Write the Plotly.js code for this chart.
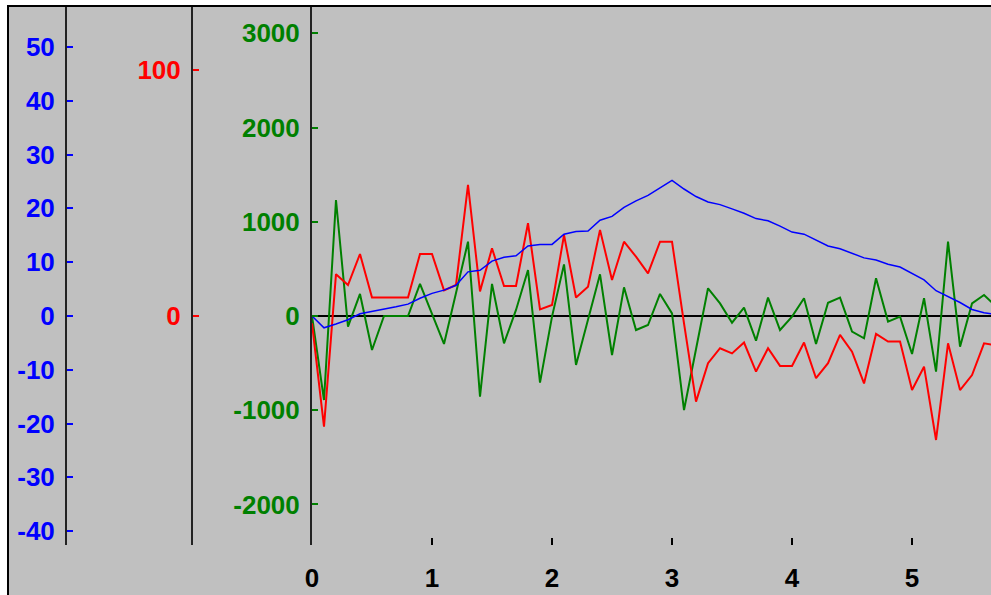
<!DOCTYPE html>
<html>
<head>
<meta charset="utf-8">
<script src="https://cdn.plot.ly/plotly-3.0.1.min.js"></script>
<style>
  html, body { margin:0; padding:0; background:#ffffff; width:991px; height:595px; overflow:hidden; }
  #frame { position:absolute; left:7px; top:5px; border-left:2px solid #000; border-top:2px solid #000; width:982px; height:588px; background:#c0c0c0; }
  #chart { width:982px; height:588px; }
</style>
</head>
<body>
<div id="frame"><div id="chart"></div></div>
<script>
const xValues = [0,0.1,0.2,0.3,0.4,0.5,0.6,0.7,0.8,0.9,1.0,1.1,1.2,1.3,1.4,1.5,1.6,1.7,1.8,1.9,2.0,2.1,2.2,2.3,2.4,2.5,2.6,2.7,2.8,2.9,3.0,3.1,3.2,3.3,3.4,3.5,3.6,3.7,3.8,3.9,4.0,4.1,4.2,4.3,4.4,4.5,4.6,4.7,4.8,4.9,5.0,5.1,5.2,5.3,5.4,5.5,5.6,5.7];

const blueSeries = [0,-2.2,-1.5,-0.7,0.4,0.8,1.2,1.7,2.2,3.3,4.2,4.8,5.7,8.2,8.5,10.2,10.9,11.2,13.0,13.3,13.3,15.2,15.7,15.8,17.8,18.5,20.2,21.4,22.4,23.8,25.2,23.6,22.2,21.2,20.7,19.9,19.1,18.1,17.7,16.7,15.6,15.2,14.1,13.0,12.5,11.6,10.8,10.4,9.6,9.1,7.9,6.7,4.7,3.6,2.5,1.2,0.6,0.3];

const redSeries = [-3,-45,17,12.6,25.2,7.5,7.5,7.5,7.5,25.2,25.2,10.4,12.6,53.3,10,27.5,12.2,12.2,37.7,2.7,4.5,32.9,7.5,11.9,35,14.6,30.2,24.1,17.3,30.2,30.2,-3,-34.8,-19.2,-13.1,-15.2,-10.8,-22.6,-13.1,-20.3,-20.3,-10.8,-25.3,-19.2,-7.7,-14.5,-27.4,-7.3,-10.4,-10.4,-30.1,-20.6,-50.4,-11.1,-30.1,-24,-11.1,-12];

const greenSeries = [0,-892,1231,-113,234,-361,0,0,0,340,20,-297,245,789,-856,340,-290,64,488,-708,-7,548,-520,-39,442,-414,304,-149,-96,234,28,-998,-355,294,134,-71,88,-262,195,-149,-7,188,-297,141,195,-166,-237,400,-60,-7,-403,188,-591,789,-326,134,223,100];

const xTickVals = [0,1,2,3,4,5];
const xTickText = ['0','1','2','3','4','5'];
const blueTickVals = [50,40,30,20,10,0,-10,-20,-30,-40];
const blueTickText = ['50','40','30','20','10','0','-10','-20','-30','-40'];
const redTickVals = [100,0];
const redTickText = ['100','0'];
const greenTickVals = [3000,2000,1000,0,-1000,-2000];
const greenTickText = ['3000','2000','1000','0','-1000','-2000'];

const fontFam = 'Liberation Sans, Arial, sans-serif';
const BLUE = '#0000ff', RED = '#ff0000', GREEN = '#008000';

const traces = [
  {x:xValues, y:blueSeries, type:'scatter', mode:'lines', yaxis:'y3', line:{color:BLUE, width:1.5}, hoverinfo:'skip'},
  {x:xValues, y:redSeries, type:'scatter', mode:'lines', yaxis:'y2', line:{color:RED, width:2}, hoverinfo:'skip'},
  {x:xValues, y:greenSeries, type:'scatter', mode:'lines', yaxis:'y', line:{color:GREEN, width:2}, hoverinfo:'skip'}
];

function yAx(color, range, tv, tt, extra) {
  return Object.assign({
    range: range, tickmode:'array', tickvals:tv, ticktext:tt,
    ticks:'inside', ticklen:6, tickwidth:2, tickcolor:color,
    showline:true, linecolor:'#222', linewidth:2, showgrid:false, zeroline:false,
    tickfont:{family:fontFam, size:26, color:color, weight:'bold'},
    ticklabelstandoff:5, fixedrange:true
  }, extra);
}

const layout = {
  width:982, height:588,
  margin:{l:30, r:0, t:0, b:50},
  paper_bgcolor:'#c0c0c0', plot_bgcolor:'#c0c0c0',
  showlegend:false,
  xaxis:{
    domain:[0.28676, 1], range:[0, 5.658],
    tickmode:'array', tickvals:xTickVals, ticktext:xTickText,
    ticks:'inside', ticklen:7, tickwidth:2, tickcolor:'#000',
    showline:false, showgrid:false, zeroline:false,
    tickfont:{family:fontFam, size:26, color:'#000', weight:'bold'},
    ticklabelstandoff:15, fixedrange:true
  },
  yaxis: yAx(GREEN, [-2431, 3280], greenTickVals, greenTickText,
    {anchor:'x', side:'left', zeroline:true, zerolinecolor:'#000', zerolinewidth:2}),
  yaxis2: yAx(RED, [-93.09, 125.6], redTickVals, redTickText,
    {overlaying:'y', anchor:'free', position:0.16071, side:'left'}),
  yaxis3: yAx(BLUE, [-42.57, 57.43], blueTickVals, blueTickText,
    {overlaying:'y', anchor:'free', position:0.02836, side:'left'})
};

Plotly.newPlot('chart', traces, layout, {displayModeBar:false, staticPlot:true});
</script>
</body>
</html>
